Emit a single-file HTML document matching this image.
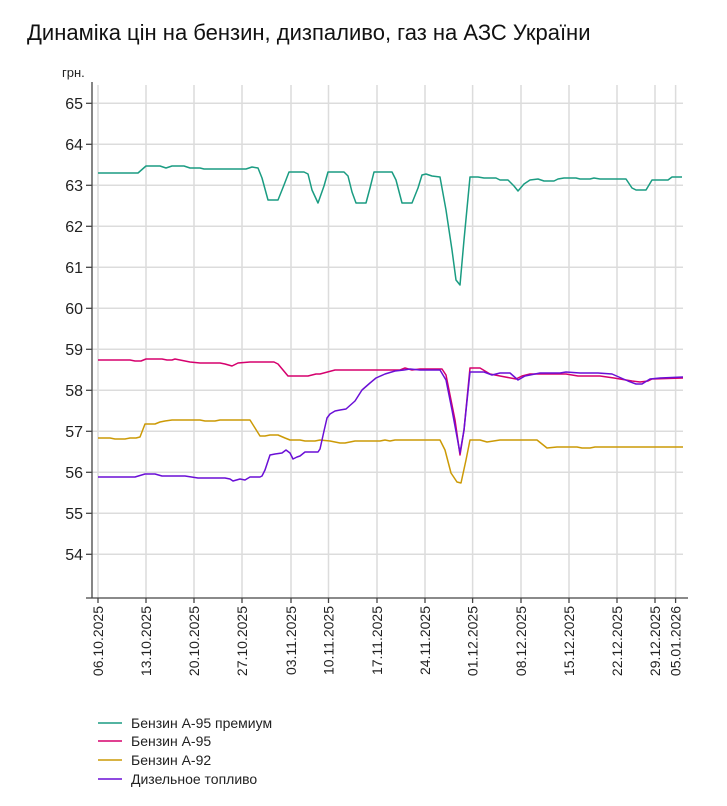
<!DOCTYPE html>
<html><head><meta charset="utf-8"><style>body{margin:0;background:#fff}svg{display:block;font-family:"Liberation Sans",Arial,sans-serif}</style></head><body>
<svg width="727" height="806" viewBox="0 0 727 806">
<text x="27" y="40" font-size="22" fill="#111">Динаміка цін на бензин, дизпаливо, газ на АЗС України</text>
<text x="62" y="77" font-size="13" fill="#222">грн.</text>
<g stroke="#dcdcdc" stroke-width="1.5">
<line x1="92" x2="683" y1="103.3" y2="103.3"/><line x1="92" x2="683" y1="144.3" y2="144.3"/><line x1="92" x2="683" y1="185.3" y2="185.3"/><line x1="92" x2="683" y1="226.3" y2="226.3"/><line x1="92" x2="683" y1="267.3" y2="267.3"/><line x1="92" x2="683" y1="308.3" y2="308.3"/><line x1="92" x2="683" y1="349.3" y2="349.3"/><line x1="92" x2="683" y1="390.3" y2="390.3"/><line x1="92" x2="683" y1="431.3" y2="431.3"/><line x1="92" x2="683" y1="472.3" y2="472.3"/><line x1="92" x2="683" y1="513.3" y2="513.3"/><line x1="92" x2="683" y1="554.3" y2="554.3"/>
<line x1="98" x2="98" y1="85" y2="598"/><line x1="146" x2="146" y1="85" y2="598"/><line x1="194" x2="194" y1="85" y2="598"/><line x1="242" x2="242" y1="85" y2="598"/><line x1="291" x2="291" y1="85" y2="598"/><line x1="328.5" x2="328.5" y1="85" y2="598"/><line x1="377" x2="377" y1="85" y2="598"/><line x1="425" x2="425" y1="85" y2="598"/><line x1="472.6" x2="472.6" y1="85" y2="598"/><line x1="521" x2="521" y1="85" y2="598"/><line x1="569" x2="569" y1="85" y2="598"/><line x1="617" x2="617" y1="85" y2="598"/><line x1="655" x2="655" y1="85" y2="598"/><line x1="675.6" x2="675.6" y1="85" y2="598"/>
</g>
<g stroke="#444" stroke-width="1.3">
<line x1="92" x2="92" y1="82" y2="598"/><line x1="86" x2="688" y1="598" y2="598"/>
<g>
<line x1="86" x2="92" y1="103.3" y2="103.3"/><line x1="86" x2="92" y1="144.3" y2="144.3"/><line x1="86" x2="92" y1="185.3" y2="185.3"/><line x1="86" x2="92" y1="226.3" y2="226.3"/><line x1="86" x2="92" y1="267.3" y2="267.3"/><line x1="86" x2="92" y1="308.3" y2="308.3"/><line x1="86" x2="92" y1="349.3" y2="349.3"/><line x1="86" x2="92" y1="390.3" y2="390.3"/><line x1="86" x2="92" y1="431.3" y2="431.3"/><line x1="86" x2="92" y1="472.3" y2="472.3"/><line x1="86" x2="92" y1="513.3" y2="513.3"/><line x1="86" x2="92" y1="554.3" y2="554.3"/>
</g>
<g>
<line x1="98" x2="98" y1="598" y2="603"/><line x1="146" x2="146" y1="598" y2="603"/><line x1="194" x2="194" y1="598" y2="603"/><line x1="242" x2="242" y1="598" y2="603"/><line x1="291" x2="291" y1="598" y2="603"/><line x1="328.5" x2="328.5" y1="598" y2="603"/><line x1="377" x2="377" y1="598" y2="603"/><line x1="425" x2="425" y1="598" y2="603"/><line x1="472.6" x2="472.6" y1="598" y2="603"/><line x1="521" x2="521" y1="598" y2="603"/><line x1="569" x2="569" y1="598" y2="603"/><line x1="617" x2="617" y1="598" y2="603"/><line x1="655" x2="655" y1="598" y2="603"/><line x1="675.6" x2="675.6" y1="598" y2="603"/>
</g></g>
<g font-size="16" fill="#222" text-anchor="end">
<text x="83" y="109">65</text><text x="83" y="150">64</text><text x="83" y="191">63</text><text x="83" y="232">62</text><text x="83" y="273">61</text><text x="83" y="314">60</text><text x="83" y="355">59</text><text x="83" y="396">58</text><text x="83" y="437">57</text><text x="83" y="478">56</text><text x="83" y="519">55</text><text x="83" y="560">54</text>
</g>
<g font-size="14" fill="#222" text-anchor="end">
<text transform="translate(103,606) rotate(-90)">06.10.2025</text>
<text transform="translate(151,606) rotate(-90)">13.10.2025</text>
<text transform="translate(199,606) rotate(-90)">20.10.2025</text>
<text transform="translate(247,606) rotate(-90)">27.10.2025</text>
<text transform="translate(296,606) rotate(-90)">03.11.2025</text>
<text transform="translate(333.5,606) rotate(-90)">10.11.2025</text>
<text transform="translate(382,606) rotate(-90)">17.11.2025</text>
<text transform="translate(430,606) rotate(-90)">24.11.2025</text>
<text transform="translate(477.6,606) rotate(-90)">01.12.2025</text>
<text transform="translate(526,606) rotate(-90)">08.12.2025</text>
<text transform="translate(574,606) rotate(-90)">15.12.2025</text>
<text transform="translate(622,606) rotate(-90)">22.12.2025</text>
<text transform="translate(660,606) rotate(-90)">29.12.2025</text>
<text transform="translate(680.6,606) rotate(-90)">05.01.2026</text>
</g>
<g fill="none" stroke-width="1.5" stroke-linejoin="round">
<polyline stroke="#1a9c82" points="98,173 138,173 146,166 160,166 166,168 172,166 184,166 190,168 200,168 204,169 246,169 252,167 258,168 262,178 268,200 278,200 284,185 289,172 304,172 308,174 312,190 318,203 324,186 328,172 344,172 348,176 352,192 356,203 366,203 370,188 374,172 392,172 396,180 402,203 412,203 418,188 422,175 426,174 432,176 440,177 446,210 452,250 456,280 460,285 464,240 470,177 478,177 484,178 496,178 500,180 508,180 514,186 518,191 524,184 530,180 538,179 544,181 554,181 558,179 564,178 576,178 580,179 590,179 594,178 600,179 626,179 632,188 636,190 646,190 652,180 668,180 672,177 682,177"/>
<polyline stroke="#cc9a06" points="98,438 110,438 115,439 125,439 130,438 136,438 140,437 145,424 155,424 160,422 165,421 172,420 200,420 205,421 215,421 220,420 250,420 255,428 260,436 265,436 270,435 278,435 285,438 290,440 300,440 305,441 315,441 320,440 330,441 340,443 345,443 355,441 380,441 385,440 390,441 395,440 440,440 445,450 451,473 457,482 461,483 466,460 470,440 480,440 487,442 500,440 537,440 547,448 557,447 577,447 582,448 590,448 595,447 683,447"/>
<polyline stroke="#d5006d" points="98,360 130,360 135,361 141,361 146,359 162,359 167,360 172,360 175,359 180,360 190,362 200,363 220,363 225,364 232,366 238,363 250,362 274,362 278,364 288,376 308,376 316,374 320,374 335,370 350,370 400,370 405,368 412,370 420,369 442,369 446,375 450,395 455,420 460,455 464,430 470,368 480,368 490,374 500,376 516,379 522,376 530,374 560,374 566,374 578,376 600,376 614,378 632,381 640,382 648,381 652,379 683,378"/>
<polyline stroke="#6a0fd6" points="98,477 135,477 145,474 155,474 162,476 185,476 198,478 225,478 230,479 233,481 240,479 245,480 250,477 260,477 262,476 265,470 270,455 275,454 282,453 286,450 290,453 293,459 297,457 300,456 305,452 318,452 320,449 324,431 327,418 330,414 335,411 340,410 346,409 355,401 362,390 370,383 376,378 385,374 395,371 404,370 410,369 420,370 440,370 446,380 452,410 460,453 464,430 470,372 484,372 492,375 500,373 510,373 518,380 525,376 540,373 560,373 566,372 580,373 598,373 612,374 628,381 636,384 642,384 650,379 660,378 683,377"/>
</g>
<g stroke-width="1.5">
<line x1="98" x2="122" y1="723" y2="723" stroke="#1a9c82"/>
<line x1="98" x2="122" y1="741" y2="741" stroke="#d5006d"/>
<line x1="98" x2="122" y1="760" y2="760" stroke="#cc9a06"/>
<line x1="98" x2="122" y1="779" y2="779" stroke="#6a0fd6"/>
</g>
<g font-size="14" fill="#222">
<text x="131" y="728">Бензин А-95 премиум</text>
<text x="131" y="746">Бензин А-95</text>
<text x="131" y="765">Бензин А-92</text>
<text x="131" y="784">Дизельное топливо</text>
</g>
</svg>
</body></html>
